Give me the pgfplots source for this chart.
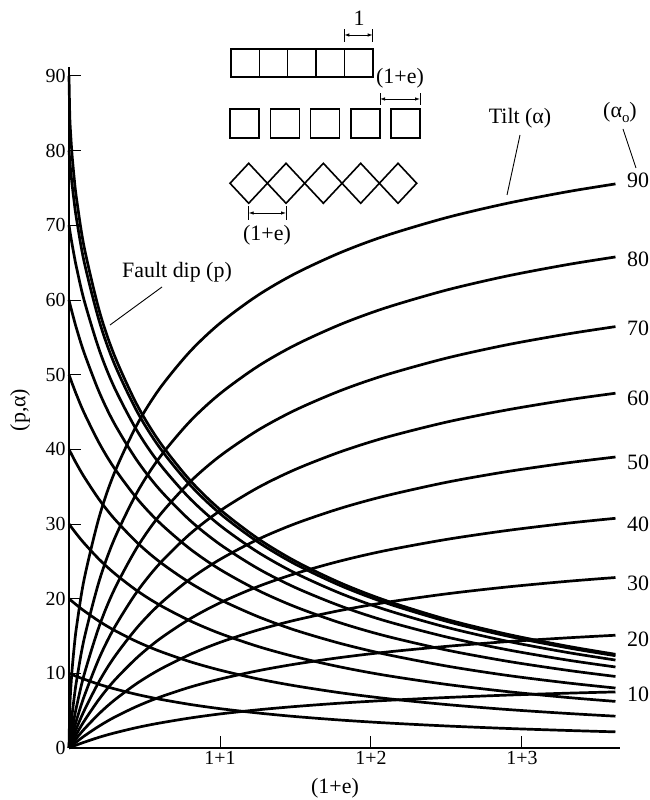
\documentclass[border=0pt]{standalone}
\usepackage{fontspec}
\setmainfont{Liberation Serif}
\usepackage{pgfplots}
\pgfplotsset{compat=1.18}
\usepackage{pgfplotstable}
\usetikzlibrary{arrows.meta}

% fault dip p for initial dips 90..10
\pgfplotstableread{
u p90 p80 p70 p60 p50 p40 p30 p20 p10
0 90 80 70 60 50 40 30 20 10
0.005 84.73 78.71 69.35 59.56 49.71 39.80 29.86 19.91 9.96
0.01 82.55 77.56 68.71 59.17 49.43 39.60 29.72 19.82 9.91
0.02 79.51 75.55 67.52 58.38 48.87 39.20 29.45 19.65 9.83
0.035 76.18 73.00 65.85 57.24 48.07 38.62 29.05 19.40 9.71
0.05 73.56 70.83 64.33 56.16 47.29 38.06 28.66 19.15 9.59
0.1 67.12 65.14 59.97 52.94 44.89 36.32 27.43 18.37 9.21
0.2 58.60 57.19 53.33 47.66 40.83 33.27 25.26 16.97 8.52
0.3 52.61 51.48 48.30 43.47 37.49 30.71 23.41 15.77 7.93
0.45 45.98 45.09 42.51 38.52 33.42 27.53 21.07 14.24 7.17
0.6 41.00 40.24 38.06 34.62 30.17 24.94 19.15 12.97 6.54
0.8 35.89 35.27 33.43 30.51 26.69 22.14 17.05 11.57 5.84
1.0 31.94 31.40 29.81 27.27 23.91 19.88 15.34 10.43 5.27
1.25 28.07 27.61 26.24 24.05 21.13 17.61 13.61 9.26 4.69
1.5 25.01 24.61 23.41 21.48 18.90 15.77 12.21 8.32 4.21
1.8 22.09 21.73 20.69 19.00 16.74 13.99 10.84 7.39 3.74
2.1 19.74 19.42 18.50 17.00 14.99 12.54 9.72 6.63 3.36
2.5 17.23 16.97 16.17 14.87 13.12 10.98 8.52 5.82 2.95
2.9 15.25 15.01 14.31 13.17 11.63 9.73 7.56 5.16 2.62
3.3 13.64 13.43 12.80 11.78 10.41 8.72 6.77 4.63 2.35
3.62 12.55 12.36 11.78 10.85 9.58 8.03 6.24 4.26 2.16
}\pdata

% tilt alpha for alpha_o 90..10
\pgfplotstableread{
u a90 a80 a70 a60 a50 a40 a30 a20 a10
0 0 0 0 0 0 0 0 0 0
0.005 5.21 1.26 0.64 0.43 0.28 0.20 0.14 0.09 0.04
0.01 7.36 2.39 1.26 0.80 0.56 0.39 0.27 0.17 0.08
0.02 10.37 4.37 2.43 1.58 1.10 0.78 0.54 0.34 0.17
0.035 13.65 6.86 4.05 2.69 1.88 1.34 0.93 0.59 0.29
0.05 16.23 8.99 5.55 3.75 2.65 1.89 1.31 0.83 0.40
0.1 22.57 14.59 9.81 6.89 4.98 3.59 2.51 1.59 0.77
0.2 30.94 22.37 16.30 12.04 8.93 6.55 4.61 2.94 1.44
0.3 36.81 27.96 21.21 16.10 12.17 9.03 6.40 4.11 2.01
0.45 43.28 34.19 26.83 20.91 16.10 12.09 8.65 5.58 2.74
0.6 48.12 38.90 31.15 24.68 19.25 14.59 10.50 6.80 3.34
0.8 53.06 43.71 35.61 28.64 22.59 17.28 12.51 8.14 4.01
1.0 56.88 47.44 39.10 31.76 25.25 19.44 14.14 9.23 4.56
1.25 60.61 51.10 42.54 34.85 27.92 21.61 15.79 10.34 5.11
1.5 63.55 53.98 45.26 37.31 30.05 23.36 17.13 11.24 5.56
1.8 66.36 56.74 47.87 39.68 32.11 25.06 18.43 12.12 6.01
2.1 68.62 58.96 49.97 41.60 33.78 26.45 19.50 12.84 6.37
2.5 71.02 61.32 52.21 43.64 35.58 27.93 20.64 13.61 6.76
2.9 72.93 63.20 53.99 45.27 37.01 29.12 21.56 14.24 7.08
3.3 74.49 64.73 55.44 46.61 38.18 30.10 22.32 14.75 7.34
3.62 75.54 65.76 56.43 47.51 38.97 30.76 22.83 15.10 7.51
}\tdata

\begin{document}
\begin{tikzpicture}[x=1bp,y=1bp]
\useasboundingbox (0,0) rectangle (650,800);
\begin{axis}[
  at={(69bp,52bp)}, anchor=south west, scale only axis,
  width=551bp, height=681bp,
  xmin=0, xmax=3.65, ymin=0, ymax=91.2,
  axis lines*=left,
  axis line style={line width=1.2bp, black},
  xtick={1,2,3}, xticklabels={1+1,1+2,1+3},
  ytick={0,10,20,30,40,50,60,70,80,90},
  tick align=inside, major tick length=12bp,
  tick style={line width=0.9bp, black},
  ticklabel style={font=\fontsize{20}{24}\selectfont},
  /pgf/number format/assume math mode=true,
  clip=false,
]
\pgfplotsinvokeforeach{p90,p80,p70,p60,p50,p40,p30,p20,p10}{
  \addplot[black, line width=2.7bp, smooth, no markers] table[x=u, y=#1] {\pdata};
}
\pgfplotsinvokeforeach{a90,a80,a70,a60,a50,a40,a30,a20,a10}{
  \addplot[black, line width=2.7bp, smooth, no markers] table[x=u, y=#1] {\tdata};
}
\end{axis}

\begin{scope}[font=\fontsize{22}{26}\selectfont]
% axis titles
\node[rotate=90] at (20,390) {(p,α)};
\node at (335,12) {(1+e)};
% annotations
\node at (177,528) {Fault dip (p)};
\draw[line width=0.9bp] (162,513) -- (110,475);
\node at (520,682) {Tilt (α)};
\draw[line width=0.9bp] (520,665) -- (507,605);
\node at (620,688) {(α\raisebox{-0.5ex}{\fontsize{15}{17}\selectfont o})};
\draw[line width=0.9bp] (623,671) -- (636,632);
% right-hand labels
\node[anchor=west, inner sep=0pt] at (627,620) {90};
\node[anchor=west, inner sep=0pt] at (627,541) {80};
\node[anchor=west, inner sep=0pt] at (627,472) {70};
\node[anchor=west, inner sep=0pt] at (627,402) {60};
\node[anchor=west, inner sep=0pt] at (627,338) {50};
\node[anchor=west, inner sep=0pt] at (627,276) {40};
\node[anchor=west, inner sep=0pt] at (627,217) {30};
\node[anchor=west, inner sep=0pt] at (627,161) {20};
\node[anchor=west, inner sep=0pt] at (627,106) {10};
\end{scope}

% inset: blocks
\begin{scope}[line width=1.6bp]
\draw (231,722.7) rectangle (372.7,750.7);
\foreach \xx in {259.3,287.6,315.9,344.3} {\draw (\xx,722.7) -- (\xx,750.7);}
\foreach \xx in {230,270.3,310.6,350.9,391.2} {\draw (\xx,661.7) rectangle ++(29,29);}
\foreach \k in {0,1,2,3,4} {
  \pgfmathsetmacro{\cx}{248.7+37.33*\k}
  \draw (\cx-18.67,616.7) -- (\cx,636.7) -- (\cx+18.67,616.7) -- (\cx,596.7) -- cycle;
}
\end{scope}
\begin{scope}[line width=0.8bp]
\draw (344.3,758) -- (344.3,771); \draw (372.7,758) -- (372.7,771);
\draw[{Latex[length=5bp,width=3.5bp]}-{Latex[length=5bp,width=3.5bp]}] (344.3,765) -- (372.7,765);
\draw (380,695) -- (380,707); \draw (420,695) -- (420,707);
\draw[{Latex[length=5bp,width=3.5bp]}-{Latex[length=5bp,width=3.5bp]}] (380,701) -- (420,701);
\draw (248.7,580) -- (248.7,594); \draw (286,580) -- (286,594);
\draw[{Latex[length=5bp,width=3.5bp]}-{Latex[length=5bp,width=3.5bp]}] (248.7,587) -- (286,587);
\end{scope}
\begin{scope}[font=\fontsize{22}{26}\selectfont]
\node at (359,782) {1};
\node at (400,722) {(1+e)};
\node at (267,565) {(1+e)};
\end{scope}
\end{tikzpicture}
\end{document}
